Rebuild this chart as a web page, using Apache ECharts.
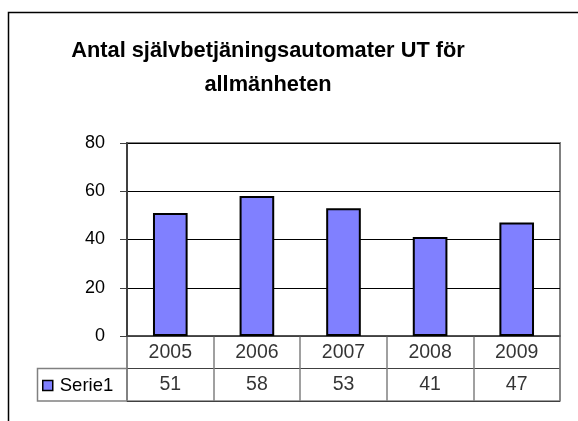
<!DOCTYPE html>
<html>
<head>
<meta charset="utf-8">
<script src="https://cdn.jsdelivr.net/npm/echarts@6/dist/echarts.min.js"></script>
<style>
html,body{margin:0;padding:0;background:#fff;}
#c{width:578px;height:421px;}
</style>
</head>
<body>
<div id="c"></div>
<script>
var categories = ['2005', '2006', '2007', '2008', '2009'];
var values = [51, 58, 53, 41, 47];
var seriesName = 'Serie1';
var yTicks = [0, 20, 40, 60, 80];
var titleText = 'Antal självbetjäningsautomater UT för\nallmänheten';

var FONT = 'Liberation Sans, Arial, sans-serif';
var chart = echarts.init(document.getElementById('c'), null, {renderer: 'canvas'});

var tableTop = [];
var tableBottom = [];
for (var i = 0; i < categories.length; i++) {
  tableTop.push([categories[i], 1.5, categories[i]]);
  tableBottom.push([categories[i], 0.5, String(values[i])]);
}

var option = {
  animation: false,
  backgroundColor: '#fff',
  title: {
    text: titleText,
    left: 263,
    top: 29,
    textAlign: 'center',
    textStyle: {fontFamily: FONT, fontSize: 21.8, fontWeight: 'bold', color: '#000', lineHeight: 34}
  },
  legend: {
    data: [seriesName],
    left: 37,
    top: 371,
    icon: 'rect',
    itemWidth: 10,
    itemHeight: 10,
    itemGap: 4,
    itemStyle: {color: '#8080FF', borderColor: '#000', borderWidth: 1.5},
    textStyle: {fontFamily: FONT, fontSize: 18.5, color: '#000', padding: [0, 0, 0, 2]}
  },
  grid: [
    {left: 127, top: 143, right: 18, height: 193, show: true, borderColor: '#808080', borderWidth: 2, containLabel: false},
    {left: 127, top: 336, right: 18, height: 65, show: true, borderColor: '#808080', borderWidth: 1.5, containLabel: false}
  ],
  xAxis: [
    {
      gridIndex: 0, type: 'category', data: categories,
      axisLine: {show: true, lineStyle: {color: '#404040', width: 1.5}},
      axisTick: {show: false},
      axisLabel: {show: false},
      splitLine: {show: false}
    },
    {
      gridIndex: 1, type: 'category', data: categories,
      axisLine: {show: false},
      axisTick: {show: false},
      axisLabel: {show: false},
      splitLine: {show: true, lineStyle: {color: '#808080', width: 1.5}}
    }
  ],
  yAxis: [
    {
      gridIndex: 0, type: 'value', min: 0, max: 80, interval: 20,
      axisLine: {show: true, lineStyle: {color: '#404040', width: 2}},
      axisTick: {show: true, length: 7, lineStyle: {color: '#404040', width: 1}},
      axisLabel: {fontFamily: FONT, fontSize: 18, color: '#000', margin: 22},
      splitLine: {show: true, lineStyle: {color: '#000', width: 1}}
    },
    {
      gridIndex: 1, type: 'value', min: 0, max: 2, interval: 1,
      axisLine: {show: false}, axisTick: {show: false}, axisLabel: {show: false},
      splitLine: {show: true, lineStyle: {color: '#404040', width: 1}}
    }
  ],
  series: [
    {
      name: seriesName, type: 'bar', xAxisIndex: 0, yAxisIndex: 0,
      data: values, barWidth: '40%',
      itemStyle: {color: '#8080FF', borderColor: '#000', borderWidth: 2}
    },
    {
      name: 'tableTop', type: 'scatter', xAxisIndex: 1, yAxisIndex: 1,
      data: tableTop, symbolSize: 1, itemStyle: {color: 'rgba(0,0,0,0)'},
      label: {show: true, position: 'inside', formatter: function (p) { return p.data[2]; },
        fontFamily: FONT, fontSize: 19.5, color: '#000'},
      silent: true
    },
    {
      name: 'tableBottom', type: 'scatter', xAxisIndex: 1, yAxisIndex: 1,
      data: tableBottom, symbolSize: 1, itemStyle: {color: 'rgba(0,0,0,0)'},
      label: {show: true, position: 'inside', formatter: function (p) { return p.data[2]; },
        fontFamily: FONT, fontSize: 19.5, color: '#000'},
      silent: true
    }
  ],
  graphic: [
    {type: 'rect', shape: {x: 8.5, y: 12.5, width: 700, height: 600}, style: {fill: 'none', stroke: '#000', lineWidth: 1.5}, silent: true, z: -1},
    {type: 'rect', shape: {x: 37.5, y: 368.5, width: 89.5, height: 32.5}, style: {fill: 'none', stroke: '#808080', lineWidth: 1.5}, silent: true}
  ]
};
chart.setOption(option);
</script>
</body>
</html>
